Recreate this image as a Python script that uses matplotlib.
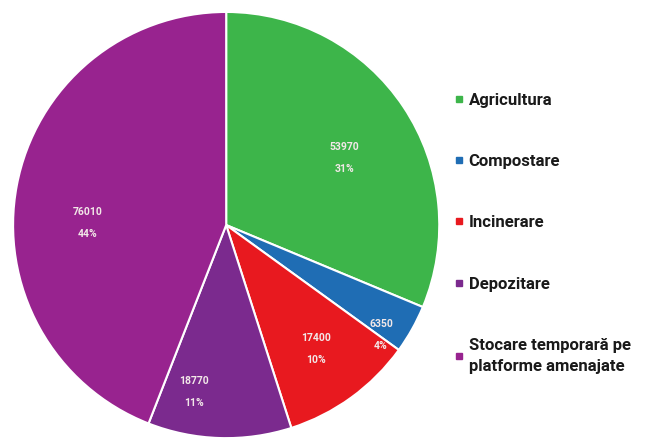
import matplotlib.pyplot as plt
from matplotlib.lines import Line2D
import numpy as np

categories = ['Agricultura', 'Compostare', 'Incinerare', 'Depozitare',
              'Stocare temporară pe\nplatforme amenajate']
values = [53970, 6350, 17400, 18770, 76010]
percents = ['31%', '4%', '10%', '11%', '44%']
colors = ['#3db54a', '#1f6db4', '#e8191f', '#7b2a8e', '#98238f']

# label placement (fraction of radius, angular nudge in degrees)
label_radius = [0.64, 0.89, 0.72, 0.80, 0.65]
label_nudge = [-4, -6, 0, -9, 10]

plt.rcParams['font.family'] = ['Roboto', 'DejaVu Sans']

fig = plt.figure(figsize=(6.49, 4.43), dpi=100)
ax = fig.add_axes([0.0185, 0.011, 0.66, 0.962])

wedges, _ = ax.pie(values, colors=colors, startangle=90, counterclock=False,
                   radius=1.0, wedgeprops=dict(edgecolor='white', linewidth=1.5))

for w, v, p, r, d in zip(wedges, values, percents, label_radius, label_nudge):
    ang = np.deg2rad((w.theta1 + w.theta2) / 2 + d)
    ax.text(r * np.cos(ang), r * np.sin(ang), f'{v}\n{p}', ha='center', va='center',
            color='#f2e8e8', fontsize=7.5, fontweight='bold', linespacing=2.5)

ax.set_xlim(-1.0, 1.0)
ax.set_ylim(-1.0, 1.0)
ax.set_aspect('equal')
ax.axis('off')

handles = [Line2D([], [], marker='s', linestyle='none', markersize=4.5,
                  markerfacecolor=c, markeredgecolor=c) for c in colors]
leg = fig.legend(handles, categories, loc='upper left', bbox_to_anchor=(0.677, 0.825),
                 frameon=False, handlelength=0.5, handletextpad=0.35, labelspacing=2.78,
                 prop=dict(size=12, weight='bold'), labelcolor='#1a1a1a')
for t in leg.get_texts():
    t.set_linespacing(1.55)

fig.savefig('out.png', dpi=100, facecolor='white')
